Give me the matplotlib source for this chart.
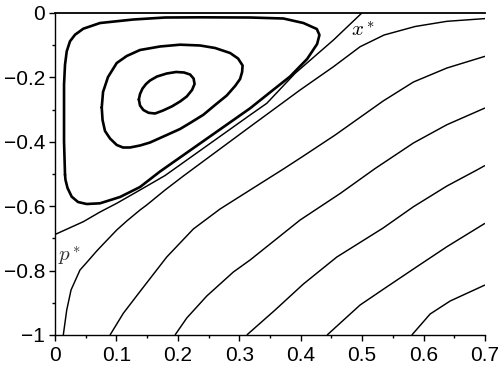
import matplotlib
matplotlib.use("Agg")
import matplotlib.pyplot as plt
from matplotlib.ticker import MultipleLocator, FixedLocator

plt.rcParams['font.family'] = ['Liberation Sans', 'DejaVu Sans']
plt.rcParams['mathtext.fontset'] = 'cm'

# ---- data (x, y) ----
# invariant line y = 0
top_x = [0.0, 0.7]
top_y = [0.0, 0.0]

# separatrix p* -> x*
sep_x = [0.0, 0.0461, 0.0733, 0.1005, 0.1384, 0.1792, 0.3176, 0.3448, 0.3909, 0.4533, 0.4995]
sep_y = [-0.6879, -0.6481, -0.618, -0.591, -0.5497, -0.5047, -0.3168, -0.2804, -0.1873, -0.0839, 0.0]

# closed orbits (thick)
outer_x = [0.0163, 0.0147, 0.0147, 0.0147, 0.0163, 0.0191, 0.0244, 0.0326, 0.0461, 0.0733, 0.1275,
           0.1792, 0.2362, 0.3176, 0.3718, 0.4044, 0.4262, 0.4305, 0.4267, 0.4104, 0.3827, 0.3502,
           0.3176, 0.171, 0.1384, 0.1059, 0.0733, 0.0516, 0.0375, 0.0272, 0.0204, 0.0171, 0.0163]
outer_y = [-0.5022, -0.3984, -0.295, -0.2227, -0.1606, -0.1189, -0.0879, -0.0674, -0.0488, -0.0311, -0.0202,
           -0.014, -0.0134, -0.014, -0.0171, -0.0311, -0.0497, -0.0683, -0.0963, -0.1429, -0.1972, -0.2463,
           -0.296, -0.4922, -0.5404, -0.5714, -0.591, -0.5932, -0.587, -0.5705, -0.5435, -0.5186, -0.5022]

middle_x = [0.0761, 0.0782, 0.0863, 0.1005, 0.1168, 0.1384, 0.171, 0.2036, 0.2362, 0.2606, 0.285,
            0.298, 0.3054, 0.3046, 0.3013, 0.2932, 0.2796, 0.2606, 0.2415, 0.2199, 0.2036, 0.1819,
            0.171, 0.1547, 0.1384, 0.1221, 0.1107, 0.1005, 0.0896, 0.0814, 0.0774, 0.0761]
middle_y = [-0.2935, -0.2453, -0.1988, -0.1553, -0.1335, -0.1149, -0.104, -0.0984, -0.1009, -0.1087, -0.1242,
            -0.1413, -0.163, -0.1832, -0.205, -0.2267, -0.2562, -0.2857, -0.3161, -0.3416, -0.3602, -0.3789,
            -0.3882, -0.4022, -0.4115, -0.4177, -0.4177, -0.4099, -0.3898, -0.3665, -0.3323, -0.2935]

inner_x = [0.1365, 0.1384, 0.1425, 0.1482, 0.1547, 0.1661, 0.1819, 0.1971, 0.2101, 0.2199, 0.2256,
           0.2272, 0.2231, 0.2145, 0.2036, 0.1906, 0.1759, 0.1629, 0.1523, 0.1438, 0.1384, 0.1365]
inner_y = [-0.2686, -0.2516, -0.2345, -0.2205, -0.2096, -0.1972, -0.1879, -0.1832, -0.1848, -0.191, -0.2034,
           -0.2205, -0.2391, -0.2593, -0.2748, -0.2898, -0.3028, -0.3121, -0.3099, -0.3012, -0.2873, -0.2686]

# open trajectories (thin)
c1_x = [0.0135, 0.0191, 0.0261, 0.0407, 0.0516, 0.0679, 0.0787, 0.1005, 0.1168, 0.1384, 0.1493,
        0.1792, 0.209, 0.3176, 0.3502, 0.399, 0.4533, 0.4967, 0.5358, 0.5863, 0.638, 0.7]
c1_y = [-1.0, -0.9224, -0.8602, -0.7981, -0.7748, -0.7391, -0.7174, -0.6739, -0.646, -0.6118, -0.5963,
        -0.5497, -0.5062, -0.3531, -0.3075, -0.2391, -0.1668, -0.1047, -0.0683, -0.0419, -0.0258, -0.0174]
c2_x = [0.0896, 0.1112, 0.1384, 0.1819, 0.2252, 0.2687, 0.3176, 0.3718, 0.4044, 0.4561, 0.5342,
        0.5835, 0.638, 0.7]
c2_y = [-1.0, -0.9326, -0.8649, -0.7578, -0.6708, -0.6087, -0.5497, -0.4845, -0.4441, -0.3789, -0.2733,
        -0.2143, -0.1708, -0.1345]
c3_x = [0.1954, 0.2145, 0.2471, 0.2904, 0.3176, 0.3583, 0.399, 0.4642, 0.5212, 0.5835, 0.638, 0.7]
c3_y = [-1.0, -0.9472, -0.8789, -0.8043, -0.7671, -0.705, -0.6429, -0.5606, -0.4829, -0.4037, -0.3469, -0.295]
c4_x = [0.3122, 0.3583, 0.4044, 0.4588, 0.5342, 0.5835, 0.638, 0.6868, 0.7]
c4_y = [-1.0, -0.9224, -0.8416, -0.7578, -0.6677, -0.6016, -0.5373, -0.4876, -0.4736]
c5_x = [0.443, 0.4967, 0.5375, 0.5891, 0.638, 0.7]
c5_y = [-1.0, -0.9068, -0.854, -0.7879, -0.7258, -0.6531]
c6_x = [0.5809, 0.6107, 0.6433, 0.7]
c6_y = [-1.0, -0.9348, -0.8944, -0.8447]

xticks = [0, 0.1, 0.2, 0.3, 0.4, 0.5, 0.6, 0.7]
xticklabels = ['0', '0.1', '0.2', '0.3', '0.4', '0.5', '0.6', '0.7']
yticks = [0, -0.2, -0.4, -0.6, -0.8, -1.0]
yticklabels = ['0', '\u22120.2', '\u22120.4', '\u22120.6', '\u22120.8', '\u22121']

# ---- figure ----
fig = plt.figure(figsize=(4.98, 3.72), dpi=100)
ax = fig.add_axes([55 / 498, 1 - 335 / 372, 430 / 498, 322 / 372])

thin = dict(color='black', lw=1.05, solid_joinstyle='round', solid_capstyle='butt')
thick = dict(color='black', lw=1.9, solid_joinstyle='round', solid_capstyle='round')

ax.plot(top_x, top_y, clip_on=False, color='black', lw=1.3)
ax.plot(sep_x, sep_y, **thin)
for xs, ys in [(c1_x, c1_y), (c2_x, c2_y), (c3_x, c3_y), (c4_x, c4_y), (c5_x, c5_y), (c6_x, c6_y)]:
    ax.plot(xs, ys, **thin)
for xs, ys in [(outer_x, outer_y), (middle_x, middle_y), (inner_x, inner_y)]:
    ax.plot(xs, ys, **thick)

ax.text(0.5016, -0.053, r'$x^*$', fontsize=15, ha='center', va='center')
ax.text(0.0244, -0.752, r'$p^*$', fontsize=15, ha='center', va='center', color='#333333')

ax.set_xlim(0, 0.7)
ax.set_ylim(-1, 0)
for s in ['top', 'right']:
    ax.spines[s].set_visible(False)
for s in ['left', 'bottom']:
    ax.spines[s].set_linewidth(1.0)

ax.xaxis.set_major_locator(FixedLocator(xticks))
ax.set_xticklabels(xticklabels)
ax.yaxis.set_major_locator(FixedLocator(yticks))
ax.set_yticklabels(yticklabels)
ax.xaxis.set_minor_locator(MultipleLocator(0.05))
ax.yaxis.set_minor_locator(MultipleLocator(0.1))
ax.tick_params(which='major', length=4, width=1.0, labelsize=15, direction='out', pad=3)
ax.tick_params(which='minor', length=2, width=1.0, direction='out')
ax.tick_params(axis='x', which='major', pad=4)

fig.savefig('out.png', dpi=100)
